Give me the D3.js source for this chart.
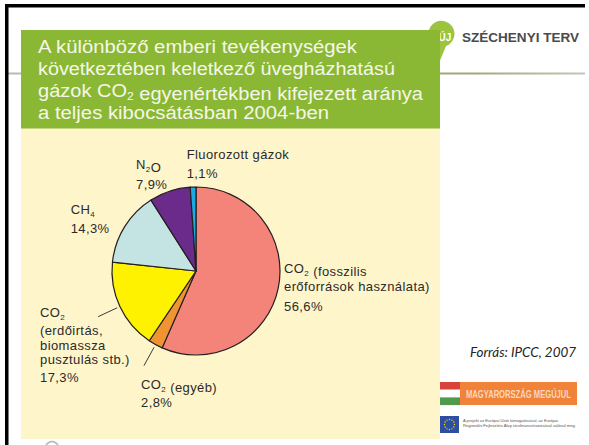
<html>
<head>
<script src="https://d3js.org/d3.v7.min.js"></script>
<style>
  body { margin: 0; background: #fff; }
  .lbl { font-family: "Liberation Sans", Arial, sans-serif; font-size: 13px; fill: #2a2a2a; letter-spacing: 0.4px; }
  .ttl { font-family: "Liberation Sans", Arial, sans-serif; font-size: 18px; fill: #f4f7e8; }
</style>
</head>
<body>
<svg id="chart" width="589" height="445"></svg>
<script>
// data
const categories = ["CO2 fosszilis", "CO2 egyéb", "CO2 erdőirtás", "CH4", "N2O", "Fluorozott gázok"];
const shares = [56.6, 2.8, 17.3, 14.3, 7.9, 1.1];
const sliceColors = ["#f4837a", "#f09332", "#fff200", "#c4e4e3", "#6b2b8b", "#1ea8e0"];
// label text (the "_x" marks a subscript)
const labelText = [
  ["CO_2  (fosszilis", "erőforrások használata)"],
  ["CO_2 (egyéb)"],
  ["CO_2", "(erdőirtás,", "biomassza", "pusztulás stb.)"],
  ["CH_4"],
  ["N_2O"],
  ["Fluorozott gázok"]
];
const titleLines = [
  "A különböző emberi tevékenységek",
  "következtében keletkező üvegházhatású",
  "gázok CO_2 egyenértékben kifejezett aránya",
  "a teljes kibocsátásban 2004-ben"
];
const titleWidths = [319, 357, 385, 291];
const source = "Forrás: IPCC, 2007";

// label layout relative to pie centre: x, then baseline of each line
const labelLayout = [
  { x: 88, y: [1.7, 19.7, 39.7] },
  { x: -55, y: [118.3, 136] },
  { x: -156, y: [46, 64, 78.5, 93, 110.5] },
  { x: -125.3, y: [-57, -37.7] },
  { x: -60, y: [-101.7, -81.7] },
  { x: -9.3, y: [-111.7, -92.7] }
];
const leaderFor = [1, 2]; // slices with a leader line

const svg = d3.select("#chart");
const cx = 196, cy = 271, r = 84;

svg.append("rect").attr("width", 589).attr("height", 445).attr("fill", "#fff");

// grey rule under header
const grad = svg.append("defs").append("linearGradient").attr("id", "rule");
grad.append("stop").attr("offset", "0%").attr("stop-color", "#b9bcaa");
grad.append("stop").attr("offset", "80%").attr("stop-color", "#9ea77a");
grad.append("stop").attr("offset", "100%").attr("stop-color", "#c4c6b8");
svg.append("rect").attr("x", 8).attr("y", 72.5).attr("width", 577).attr("height", 2).attr("fill", "url(#rule)");

// frame
svg.append("rect").attr("x", 5).attr("y", 4).attr("width", 580).attr("height", 3.5).attr("fill", "#000");
svg.append("rect").attr("x", 5).attr("y", 4).attr("width", 3.5).attr("height", 441).attr("fill", "#000");

// Uj Szechenyi Terv logo
svg.append("path")
  .attr("d", "M430,40 A13,13 0 1 1 446,46 L439,63 Z")
  .attr("fill", "#9cc43e");
svg.append("text").attr("x", 445).attr("y", 41).attr("text-anchor", "middle")
  .style("font-family", "Liberation Sans Narrow, Liberation Sans, sans-serif")
  .style("font-size", "10px").style("font-weight", "bold").attr("fill", "#fff").text("ÚJ");
svg.append("text").attr("x", 462).attr("y", 41.5)
  .attr("textLength", 117).attr("lengthAdjust", "spacingAndGlyphs")
  .style("font-family", "Liberation Sans Narrow, Liberation Sans, sans-serif")
  .style("font-size", "13.5px").style("font-weight", "bold").attr("fill", "#4a4a4a")
  .text("SZÉCHENYI TERV");

// panels
svg.append("rect").attr("x", 21).attr("y", 128).attr("width", 419).attr("height", 311).attr("fill", "#fff5cb");
svg.append("rect").attr("x", 21).attr("y", 30).attr("width", 419).attr("height", 98.5).attr("fill", "#8bb834");

// helper: write a string with "_x" subscripts into a text node
function richText(sel, str, subSize) {
  const parts = str.split(/_(\d)/);
  parts.forEach((p, i) => {
    if (p === "") return;
    if (i % 2 === 1) {
      sel.append("tspan").attr("dy", 3).style("font-size", subSize).text(p);
      sel.append("tspan").attr("dy", -3).text("");
    } else {
      sel.append("tspan").text(p);
    }
  });
}

// title
titleLines.forEach((line, i) => {
  const t = svg.append("text").attr("class", "ttl")
    .attr("x", 38).attr("y", 53 + i * 22)
    .attr("textLength", titleWidths[i]).attr("lengthAdjust", "spacingAndGlyphs");
  richText(t, line, "11px");
});

// pie
const pie = d3.pie().sort(null).value(d => d)(shares);
const arc = d3.arc().innerRadius(0).outerRadius(r);
const g = svg.append("g").attr("transform", `translate(${cx},${cy})`);

g.selectAll("path.slice").data(pie).join("path")
  .attr("class", "slice")
  .attr("d", arc)
  .attr("fill", (d, i) => sliceColors[i])
  .attr("stroke", "#231f20")
  .attr("stroke-width", 1.2)
  .attr("stroke-linejoin", "round");

// leader lines
const inner = d3.arc().innerRadius(r + 3).outerRadius(r + 3);
const outer = d3.arc().innerRadius(r + 24).outerRadius(r + 24);
g.selectAll("line.lead").data(pie.filter((d, i) => leaderFor.includes(i))).join("line")
  .attr("class", "lead")
  .attr("x1", d => inner.centroid(d)[0]).attr("y1", d => inner.centroid(d)[1])
  .attr("x2", d => outer.centroid(d)[0]).attr("y2", d => outer.centroid(d)[1])
  .attr("stroke", "#3a3a3a").attr("stroke-width", 1);

// labels
const huFmt = d3.formatLocale({ decimal: ",", thousands: " ", grouping: [3], currency: ["", " Ft"] }).format(".1f");
labelText.forEach((lines, i) => {
  const all = lines.concat([huFmt(shares[i]) + "%"]);
  const lay = labelLayout[i];
  all.forEach((ln, j) => {
    const t = g.append("text").attr("class", "lbl")
      .attr("x", lay.x).attr("y", lay.y[j]);
    richText(t, ln, "8px");
  });
});

// source
svg.append("text").attr("x", 470).attr("y", 357)
  .attr("textLength", 106).attr("lengthAdjust", "spacingAndGlyphs")
  .style("font-family", "Lato, 'Open Sans', sans-serif").style("font-style", "italic")
  .style("font-size", "13px").attr("fill", "#222").text(source);

// Magyarorszag megujul logo
const flag = ["#d8443a", "#ffffff", "#4f9a4c"];
flag.forEach((c, i) => {
  svg.append("rect").attr("x", 440).attr("y", 382 + i * 7.7).attr("width", 20).attr("height", 7.7).attr("fill", c);
});
svg.append("rect").attr("x", 460).attr("y", 382).attr("width", 117).attr("height", 23).attr("fill", "#f08339");
svg.append("text").attr("transform", "translate(466,398) scale(1,1.35)")
  .attr("textLength", 105).attr("lengthAdjust", "spacingAndGlyphs")
  .style("font-family", "Liberation Sans, sans-serif")
  .style("font-size", "8px").style("font-weight", "bold").attr("fill", "#fbd6b8")
  .text("MAGYARORSZÁG MEGÚJUL");

// EU flag
svg.append("rect").attr("x", 440).attr("y", 416).attr("width", 19).attr("height", 17).attr("fill", "#2e4fa0");
d3.range(12).forEach(k => {
  const a = k / 12 * 2 * Math.PI;
  svg.append("circle").attr("cx", 449.5 + 5 * Math.cos(a)).attr("cy", 424.5 + 5 * Math.sin(a))
    .attr("r", 0.7).attr("fill", "#f3d23a");
});
const euText = ["A projekt az Európai Unió támogatásával, az Európai",
  "Regionális Fejlesztési Alap társfinanszírozásával valósul meg."];
euText.forEach((s, i) => {
  svg.append("text").attr("x", 463).attr("y", 422 + i * 4.5)
    .attr("textLength", i ? 113 : 95).attr("lengthAdjust", "spacingAndGlyphs")
    .style("font-family", "Liberation Sans, sans-serif").style("font-size", "4px")
    .attr("fill", "#555").text(s);
});

// small grey mark at bottom
svg.append("path").attr("d", "M46,445 Q52,438 58,445").attr("fill", "none")
  .attr("stroke", "#b5b5b5").attr("stroke-width", 1.5);
</script>
</body>
</html>
